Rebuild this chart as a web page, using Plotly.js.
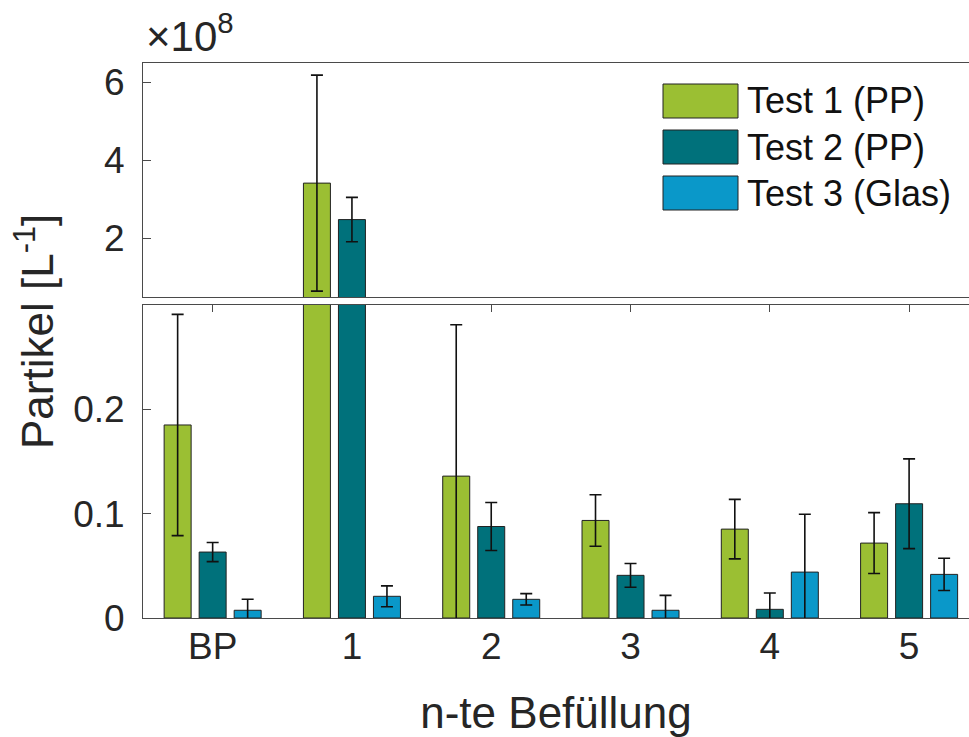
<!DOCTYPE html>
<html>
<head>
<meta charset="utf-8">
<script src="https://cdn.plot.ly/plotly-3.0.1.min.js"></script>
<style>
  html, body { margin: 0; padding: 0; background: #ffffff; }
  #chart { width: 969px; height: 737px; }
</style>
</head>
<body>
<div id="chart"></div>
<script>
// Particle counts per litre, in units of 1e8 (see the ×10^8 multiplier)
const categories = ['BP', '1', '2', '3', '4', '5'];
const seriesNames = ['Test 1 (PP)', 'Test 2 (PP)', 'Test 3 (Glas)'];

const test1 = [0.185, 3.42, 0.136, 0.0935, 0.0852, 0.0718];
const test1Err = [0.106, 2.77, 0.145, 0.0247, 0.0285, 0.0292];

const test2 = [0.0632, 2.485, 0.0877, 0.0409, 0.0083, 0.1095];
const test2Err = [0.0092, 0.57, 0.023, 0.0114, 0.0156, 0.043];

const test3 = [0.0074, 0.0208, 0.0179, 0.0074, 0.044, 0.0418];
const test3Err = [0.0105, 0.0100, 0.0055, 0.0143, 0.0555, 0.0155];

// Broken axis: lower panel shows the small values, upper panel the large ones
const lowerTicks = [0, 0.1, 0.2];
const lowerTickText = ['0', '0.1', '0.2'];
const upperTicks = [2, 4, 6];
const upperTickText = ['2', '4', '6'];

const colors = ['#9bbf33', '#00717b', '#0a98c9'];
const values = [test1, test2, test3];
const errors = [test1Err, test2Err, test3Err];

const FONT = 'Liberation Sans, Arial, Helvetica, sans-serif';
const INK = '#262626';
const AXIS = '#4a4a4a';

const traces = [];
[['x', 'y'], ['x2', 'y2']].forEach(([xa, ya]) => {
  values.forEach((v, i) => {
    traces.push({
      type: 'bar',
      x: categories,
      y: v,
      name: seriesNames[i],
      xaxis: xa,
      yaxis: ya,
      showlegend: false,
      marker: { color: colors[i], line: { color: '#222222', width: 1 } },
      error_y: {
        type: 'data',
        array: errors[i],
        visible: true,
        color: '#111111',
        thickness: 1.6,
        width: 6
      },
      hoverinfo: 'x+y'
    });
  });
});

// Figure geometry in pixels
const W = 969, H = 737;
const mL = 143, mR = 0, mT = 63, mB = 119;
const plotW = W - mL - mR, plotH = H - mT - mB;
const px2x = p => (p - mL) / plotW;           // page x -> paper x
const py2y = p => (H - mB - p) / plotH;       // page y -> paper y

// Custom legend with wide swatches
const legendShapes = [];
const legendAnn = [];
const swTop = [84, 130, 176];
seriesNames.forEach((name, i) => {
  legendShapes.push({
    type: 'rect', xref: 'paper', yref: 'paper',
    x0: px2x(663), x1: px2x(738),
    y0: py2y(swTop[i] + 34), y1: py2y(swTop[i]),
    fillcolor: colors[i],
    line: { color: '#222222', width: 1 }
  });
  legendAnn.push({
    xref: 'paper', yref: 'paper',
    x: px2x(745), y: py2y(swTop[i] + 17),
    xanchor: 'left', yanchor: 'middle',
    text: name, showarrow: false,
    font: { family: FONT, size: 36, color: '#111111' }
  });
});

const layout = {
  width: W, height: H,
  margin: { l: mL, r: mR, t: mT, b: mB },
  paper_bgcolor: '#ffffff',
  plot_bgcolor: '#ffffff',
  font: { family: FONT, color: INK },
  barmode: 'group',
  bargap: 0.246,
  bargroupgap: 0.229,
  showlegend: false,
  xaxis: {
    domain: [0, 1],
    range: [-0.5, 5.43],
    type: 'category',
    anchor: 'y',
    ticks: 'inside', ticklen: 7, tickwidth: 1, tickcolor: AXIS,
    mirror: 'allticks',
    showline: true, linecolor: AXIS, linewidth: 1,
    showgrid: false, zeroline: false,
    layer: 'below traces',
    tickfont: { family: FONT, size: 37, color: INK },
    ticklabelstandoff: -4,
    title: {
      text: 'n-te Befüllung',
      font: { family: FONT, size: 44, color: INK },
      standoff: 30
    }
  },
  xaxis2: {
    domain: [0, 1],
    range: [-0.5, 5.43],
    type: 'category',
    anchor: 'y2',
    matches: 'x',
    showticklabels: false,
    ticks: '',
    mirror: true,
    showline: true, linecolor: AXIS, linewidth: 1,
    showgrid: false, zeroline: false
  },
  yaxis: {
    domain: [0, py2y(305)],
    range: [0, 0.3],
    anchor: 'x',
    tickmode: 'array', tickvals: lowerTicks, ticktext: lowerTickText,
    ticks: 'inside', ticklen: 8, tickwidth: 1, tickcolor: AXIS,
    showline: true, linecolor: AXIS, linewidth: 1,
    showgrid: false, zeroline: false,
    tickfont: { family: FONT, size: 37, color: INK },
    ticklabelstandoff: 10
  },
  yaxis2: {
    domain: [py2y(297), 1],
    range: [0.5, 6.5],
    anchor: 'x2',
    tickmode: 'array', tickvals: upperTicks, ticktext: upperTickText,
    ticks: 'inside', ticklen: 8, tickwidth: 1, tickcolor: AXIS,
    showline: true, linecolor: AXIS, linewidth: 1,
    showgrid: false, zeroline: false,
    tickfont: { family: FONT, size: 37, color: INK },
    ticklabelstandoff: 10
  },
  shapes: legendShapes,
  annotations: legendAnn.concat([
    {
      // common multiplier of the value axis
      xref: 'paper', yref: 'paper',
      x: px2x(144), y: py2y(62),
      xanchor: 'left', yanchor: 'bottom',
      text: '×10<sup>8</sup>', showarrow: false,
      font: { family: FONT, size: 42, color: INK }
    },
    {
      // shared value-axis title spanning both panels
      xref: 'paper', yref: 'paper',
      x: px2x(34), y: py2y(332),
      xanchor: 'center', yanchor: 'middle',
      textangle: -90,
      text: 'Partikel [L<sup>-1</sup>]', showarrow: false,
      font: { family: FONT, size: 44, color: INK }
    }
  ])
};

Plotly.newPlot('chart', traces, layout, { staticPlot: true, displayModeBar: false });
</script>
</body>
</html>
